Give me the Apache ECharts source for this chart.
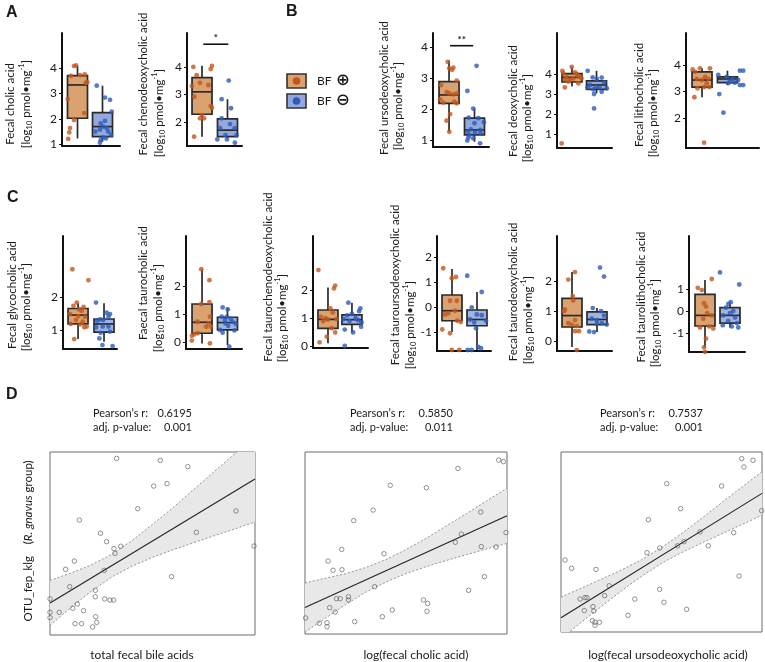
<!DOCTYPE html>
<html><head><meta charset="utf-8">
<script src="https://cdn.jsdelivr.net/npm/echarts@6/dist/echarts.min.js"></script>
<style>html,body{margin:0;padding:0;background:#fff}#c{width:765px;height:662px}</style>
</head><body><div id="c"></div>
<script>
// ---------- Panel A / B / C data (log10 pmol/mg) ----------
const groups = ['BF+', 'BF-'];
// box stats: [lowWhisker, Q1, median, Q3, highWhisker] for BF+ and BF-
const cholicTicks = [1,2,3,4];
const cholicBox = [[1.22,2.02,3.34,3.71,4.1],[1.09,1.29,1.69,2.24,3.31]];
const cholicPlus = [4.12,4.09,3.7,3.73,3.76,3.42,3.45,2.78,2.22,1.95,1.63,1.46,1.2];
const cholicPlusJitter = [-0.06,-0.14,-0.26,0.1,0.29,0.33,0.39,-0.39,0.27,-0.14,-0.3,-0.33,-0.37];
const cholicMinus = [3.31,2.84,2.75,2.28,1.92,1.82,1.69,1.62,1.57,1.49,1.49,1.36,1.26,1.16,1.22,1.05];
const cholicMinusJitter = [-0.23,0.1,0.3,0.37,0.1,-0.07,0.03,0.17,-0.1,-0.29,0.23,0.34,0.03,-0.07,0.14,-0.1];

const chenoTicks = [2,3,4];
const chenoBox = [[1.46,2.28,3.1,3.62,4.05],[1.42,1.46,1.7,2.11,2.83]];
const chenoPlus = [4.01,3.71,3.43,3.31,2.92,3.35,4.05,3.93,2.25,2.13,2.13,2.58,2.52,1.46];
const chenoPlusJitter = [-0.34,-0.21,-0.08,-0.4,-0.3,0.25,0.39,0.34,0,-0.08,0.08,0.34,0.39,-0.31];
const chenoMinus = [3.51,2.83,2.5,2.13,1.92,1.77,1.77,1.52,1.52,1.36,1.36,1.24];
const chenoMinusJitter = [0.05,-0.23,0.14,-0.23,0.1,-0.29,0.28,-0.08,0.36,-0.4,-0.02,0.29];
const chenoSig = [1.05, 2.03, 4.84, '*'];

const ursoTicks = [1,2,3,4];
const ursoBox = [[1.26,2.18,2.45,2.88,3.56],[0.94,1.16,1.32,1.7,2.02]];
const ursoPlus = [3.52,3.26,3.31,3.33,2.91,2.77,2.54,2.5,2.47,2.5,2.31,2.2,2.18,2.23,1.83,1.62,1.26];
const ursoPlusJitter = [-0.05,0.12,0.01,0.17,0.3,-0.31,-0.09,0.01,0.17,0.3,-0.35,-0.22,0.3,0.2,0.04,-0.1,0.01];
const ursoMinus = [3.39,2.58,2.01,1.72,1.7,1.54,1.57,1.34,1.32,1.26,1.23,1.21,1.16,1.08,1.05,0.98,0.89];
const ursoMinusJitter = [0.08,-0.28,-0.05,-0.23,0.15,0,0.37,-0.14,0.22,-0.27,0.02,0.24,-0.2,-0.24,-0.05,-0.28,0.22];
const ursoSig = [1.04, 1.95, 4.04, '**'];

const deoxyTicks = [1,2,3,4];
const deoxyBox = [[3.38,3.6,3.83,4.02,4.35],[3.03,3.23,3.45,3.66,4.16]];
const deoxyPlus = [4.15,4.03,3.73,3.33,4.36,4.08,4.0,3.9,3.86,3.78,3.78,3.7,3.53,3.86,3.62,0.53];
const deoxyPlusJitter = [-0.39,-0.35,-0.29,-0.29,-0.01,0.12,0.19,0.26,0.33,0.39,0.05,-0.08,0.26,-0.22,-0.15,-0.42];
const deoxyMinus = [4.16,3.83,3.75,3.82,3.58,3.28,3.45,3.33,3.33,3.36,3.23,3.11,3.0,2.28];
const deoxyMinusJitter = [-0.36,-0.16,0.01,0.21,0.31,0.42,-0.27,-0.37,0.12,-0.02,-0.13,0.21,-0.1,-0.1];

const lithoTicks = [2,3,4];
const lithoBox = [[2.78,3.16,3.43,3.74,3.87],[3.24,3.33,3.47,3.55,3.78]];
const lithoPlus = [3.83,3.74,3.87,3.16,3.47,3.12,2.78,3.87,3.16,3.55,3.47,3.31,3.43,1.07];
const lithoPlusJitter = [-0.37,-0.27,-0.08,0.09,0.25,-0.18,-0.3,0.31,0.29,0.12,-0.21,0.18,-0.01,0.08];
const lithoMinus = [3.62,3.55,3.47,3.78,3.78,3.43,3.37,3.33,3.24,3.31,3.24,2.9,2.2];
const lithoMinusJitter = [-0.36,-0.03,0.2,0.49,0.62,0.42,0.1,0.29,0.49,0.03,0.62,-0.32,-0.16];

const glycoTicks = [1,2];
const glycoBox = [[0.72,1.18,1.45,1.65,1.81],[0.64,0.93,1.18,1.33,1.81]];
const glycoPlus = [2.84,2.51,1.83,1.73,1.7,1.62,1.58,1.48,1.42,1.4,1.3,1.25,1.17,1.1,1.08,0.72,1.18];
const glycoPlusJitter = [-0.22,0.4,-0.05,-0.18,0.21,0.04,0.14,-0.31,0.01,0.27,-0.08,0.18,0.08,0.33,0.24,-0.15,-0.28];
const glycoMinus = [1.83,1.32,1.28,1.52,1.48,1.4,1.3,1.08,1.1,1.1,0.95,0.91,0.54,0.51,0.74];
const glycoMinusJitter = [-0.31,-0.15,-0.26,0.1,0.23,0.17,-0.03,-0.31,-0.05,0.17,0.23,-0.13,-0.06,0.33,-0.18];

const tauroTicks = [0,1,2];
const tauroBox = [[-0.05,0.31,0.7,1.35,2.59],[-0.11,0.43,0.69,0.88,1.23]];
const tauroPlus = [2.59,2.2,1.35,1.42,0.9,0.66,0.54,0.72,0.54,0.27,0.22,0.31,0.05,-0.05,-0.26];
const tauroPlusJitter = [-0.03,0.29,-0.03,0.29,0.31,0.25,0.16,-0.18,0.35,-0.31,-0.4,-0.17,-0.4,0.31,-0.24];
const tauroMinus = [1.23,1.16,0.9,0.9,0.83,0.78,0.72,0.64,0.57,0.43,0.33,0.41,-0.17,0.66];
const tauroMinusJitter = [-0.19,0.01,-0.23,-0.03,0.12,-0.1,0.2,0.33,0.03,-0.29,-0.19,0.27,0.07,-0.08];

const tauroChenoTicks = [0,1,2];
const tauroChenoBox = [[0.12,0.64,0.96,1.29,2.08],[0.5,0.78,0.95,1.12,1.55]];
const tauroChenoPlus = [2.7,2.15,2.05,1.35,1.2,1.05,1.0,0.97,0.95,0.9,0.65,0.5,0.35,0.15];
const tauroChenoPlusJitter = [-0.4,0.3,0.25,0.1,0.2,-0.3,-0.1,0.35,0.0,-0.2,0.15,0.3,-0.05,-0.35];
const tauroChenoMinus = [1.55,1.35,1.25,1.15,1.1,1.0,0.97,0.93,0.9,0.85,0.7,0.6,0.5,0.02];
const tauroChenoMinusJitter = [-0.15,0.35,0.3,0.0,-0.2,0.15,-0.35,0.25,-0.1,0.4,0.38,-0.3,0.05,-0.3];

const tauroUrsoTicks = [-1,0,1,2];
const tauroUrsoBox = [[-1.0,-0.55,-0.15,0.48,1.52],[-1.72,-0.75,-0.5,-0.12,0.6]];
const tauroUrsoPlus = [1.55,1.2,1.15,0.25,0.25,-0.15,-0.3,-0.25,-0.55,-0.6,-0.9,-1.05,-1.72,-1.72];
const tauroUrsoPlusJitter = [-0.35,0.16,-0.01,-0.08,0.19,0.12,-0.28,-0.15,0.21,0.35,-0.39,-0.08,-0.01,0.29];
const tauroUrsoMinus = [1.25,0.6,-0.02,-0.3,-0.33,-0.5,-0.55,-0.62,-0.85,-1.6,-1.65,-1.72,-1.72];
const tauroUrsoMinusJitter = [-0.39,0.19,-0.21,-0.01,0.19,-0.28,0.36,-0.11,-0.04,0.05,0.16,-0.37,-0.21];

const tauroDeoxyTicks = [0,1,2];
const tauroDeoxyBox = [[-0.2,0.47,0.85,1.42,2.3],[0.3,0.55,0.72,0.97,1.1]];
const tauroDeoxyPlus = [2.3,2.05,1.5,1.35,1.05,1.0,0.7,0.6,0.55,0.5,0.33,0.33,-0.18,-0.3];
const tauroDeoxyPlusJitter = [0.12,-0.15,0.03,0.05,-0.28,-0.32,0.12,-0.15,-0.01,0.19,0.12,0.28,-0.62,0.19];
const tauroDeoxyMinus = [2.45,2.15,1.1,1.0,0.85,0.75,0.7,0.6,0.58,0.55,0.32,0.3];
const tauroDeoxyMinusJitter = [0.12,0.28,-0.17,0.16,0.28,-0.21,-0.01,0.19,-0.01,0.39,-0.31,-0.12];

const tauroLithoTicks = [-1,0,1];
const tauroLithoBox = [[-1.65,-0.68,-0.2,0.75,1.4],[-0.75,-0.55,-0.2,0.15,0.4]];
const tauroLithoPlus = [1.45,1.05,0.95,0.35,0.2,-0.1,-0.2,-0.35,-0.7,-0.75,-0.8,-1.25,-1.65,-1.85];
const tauroLithoPlusJitter = [0.27,-0.29,-0.13,-0.04,0.04,0.09,0.27,-0.07,0.17,-0.2,0.33,0.04,-0.04,0];
const tauroLithoMinus = [1.75,1.2,0.4,0.32,0.15,0.0,-0.1,-0.2,-0.3,-0.45,-0.55,-0.65,-0.7,-0.75];
const tauroLithoMinusJitter = [-0.4,0.37,0.03,-0.07,-0.16,0.13,0,-0.27,0.2,-0.07,0.27,-0.29,0.07,0.33];

// ---------- Panel D data (relative units, axes unlabeled) ----------
const bandX = [0,10,20,30,40,50,60,70,80,90,100];

const totalBileX = [32.5,53.8,67.2,50.6,57.1,42.8,14.3,90.7,24.6,27.6,71.4,34.5,31.2,31.7,11.9,7.6,26.5,59.3,9.6,0,22.1,22.1,26.7,29.3,31.0,13.3,11.1,4.5,0,0,16.4,12.2,15.4,22.3,22.8,20.8,99.5];
const totalBileY = [96.5,95.4,92.0,81.4,82.7,69.0,62.8,67.8,55.6,51.0,56.1,48.5,47.2,44.6,40.4,35.9,35.3,31.9,26.4,19.7,24.4,20.9,19.7,19.1,19.1,16.9,14.6,12.4,12.4,9.5,13.3,6.2,6.2,10.0,6.9,4.4,48.6];
const totalBileFit = [17.5, 85.2];
const totalBileUpper = [29.8,33.8,38.2,44.0,51.6,60.4,69.6,79.4,89.2,98.9,108.7];
const totalBileLower = [5.2,14.8,23.8,31.6,37.6,42.4,46.6,50.4,54.2,57.9,61.7];

const cholicLogX = [95.9,98.2,75.7,42.2,60.1,33.7,24.1,87.0,77.4,74.4,99.5,18.2,39.1,87.3,94.6,11.4,13.9,18.3,88.8,34.5,81.0,17.4,15.6,21.5,21.5,58.6,60.7,12.2,15.0,43.2,60.4,0.3,38.3,7.1,10.9,10.9,24.6];
const cholicLogY = [95.6,94.7,91.0,81.7,80.4,68.1,62.3,67.0,54.9,50.4,55.7,46.5,44.1,48.0,47.8,40.1,35.0,35.3,31.5,26.0,24.0,19.4,19.4,20.5,18.7,18.7,16.8,14.5,12.1,13.2,12.5,8.8,9.5,5.9,6.2,4.0,6.8];
const cholicLogFit = [14.5, 65.0];
const cholicLogUpper = [28.0,30.6,33.1,36.5,40.9,46.4,52.6,59.4,66.2,73.2,80.2];
const cholicLogLower = [1.0,8.6,16.1,22.9,28.5,33.2,37.0,40.4,43.6,46.8,49.8];

const ursoLogX = [89.9,95.5,91.0,52.6,79.9,59.5,43.5,99.8,69.2,85.9,61.2,58.0,73.3,49.1,42.8,2.0,5.3,17.4,88.6,24.0,49.1,9.5,11.9,12.9,21.7,36.7,51.2,15.9,11.6,16.3,62.5,33.3,15.6,16.9,19.1,16.9];
const ursoLogY = [96.3,95.4,91.7,82.4,81.1,68.5,62.4,67.4,55.6,55.2,50.2,47.9,47.9,46.7,44.1,40.0,35.4,34.8,31.1,25.7,23.7,18.3,19.1,19.1,20.2,18.3,16.5,14.1,11.9,11.7,12.6,9.3,6.3,5.4,5.4,3.7];
const ursoLogFit = [7.9, 77.0];
const ursoLogUpper = [19.4,24.3,29.3,34.4,40.1,46.9,54.7,63.2,71.9,80.5,89.1];
const ursoLogLower = [-3.6,5.3,14.1,22.8,30.9,38.1,44.1,49.4,54.5,59.7,64.9];

// ---------- styling / layout ----------
const FONT = 'Lato, "Open Sans", sans-serif';
const TAN = '#d9a26e', LAV = '#93a8df', SKY = '#9db5e4';
const ORANGE = '#c4561c', BLUE = '#2d5bb6';
const INK = '#1a1a1a';

const boxPanels = [
  {box: cholicBox, plus: cholicPlus, pj: cholicPlusJitter, minus: cholicMinus, mj: cholicMinusJitter, ticks: cholicTicks,
   grid: [62,33,58,113], x: [0.38,2.7], y: [0.92,5.4]},
  {box: chenoBox, plus: chenoPlus, pj: chenoPlusJitter, minus: chenoMinus, mj: chenoMinusJitter, ticks: chenoTicks, sig: chenoSig,
   grid: [187,33,55,113], x: [0.41,2.57], y: [1.12,5.25]},
  {box: ursoBox, plus: ursoPlus, pj: ursoPlusJitter, minus: ursoMinus, mj: ursoMinusJitter, ticks: ursoTicks, sig: ursoSig,
   grid: [433,33,56,114], x: [0.37,2.57], y: [0.77,4.45]},
  {box: deoxyBox, plus: deoxyPlus, pj: deoxyPlusJitter, minus: deoxyMinus, mj: deoxyMinusJitter, ticks: deoxyTicks,
   grid: [557,33,55,115], x: [0.39,2.63], y: [0.3,6.05]},
  {box: lithoBox, plus: lithoPlus, pj: lithoPlusJitter, minus: lithoMinus, mj: lithoMinusJitter, ticks: lithoTicks,
   grid: [686,33,73,115], x: [0.37,3.24], y: [0.87,5.2]},
  {box: glycoBox, plus: glycoPlus, pj: glycoPlusJitter, minus: glycoMinus, mj: glycoMinusJitter, ticks: glycoTicks, light: true,
   grid: [63,236,54,113], x: [0.42,2.5], y: [0.42,3.85]},
  {box: tauroBox, plus: tauroPlus, pj: tauroPlusJitter, minus: tauroMinus, mj: tauroMinusJitter, ticks: tauroTicks, light: true,
   grid: [186,236,56,113], x: [0.37,2.57], y: [-0.25,3.77]},
  {box: tauroChenoBox, plus: tauroChenoPlus, pj: tauroChenoPlusJitter, minus: tauroChenoMinus, mj: tauroChenoMinusJitter, ticks: tauroChenoTicks, light: true,
   grid: [313,236,55,112], x: [0.375,2.67], y: [-0.05,3.9]},
  {box: tauroUrsoBox, plus: tauroUrsoPlus, pj: tauroUrsoPlusJitter, minus: tauroUrsoMinus, mj: tauroUrsoMinusJitter, ticks: tauroUrsoTicks, light: true,
   grid: [437,236,54,115], x: [0.4,2.56], y: [-1.76,2.84]},
  {box: tauroDeoxyBox, plus: tauroDeoxyPlus, pj: tauroDeoxyPlusJitter, minus: tauroDeoxyMinus, mj: tauroDeoxyMinusJitter, ticks: tauroDeoxyTicks, light: true,
   grid: [557,236,55,115], x: [0.4,2.6], y: [-0.33,3.5]},
  {box: tauroLithoBox, plus: tauroLithoPlus, pj: tauroLithoPlusJitter, minus: tauroLithoMinus, mj: tauroLithoMinusJitter, ticks: tauroLithoTicks, light: true,
   grid: [689,236,56,116], x: [0.36,2.6], y: [-1.86,3.4]}
];

const scatterPanels = [
  {x: totalBileX, y: totalBileY, fit: totalBileFit, up: totalBileUpper, lo: totalBileLower, grid: [50,452,205,183]},
  {x: cholicLogX, y: cholicLogY, fit: cholicLogFit, up: cholicLogUpper, lo: cholicLogLower, grid: [305,452,202,182]},
  {x: ursoLogX, y: ursoLogY, fit: ursoLogFit, up: ursoLogUpper, lo: ursoLogLower, grid: [561,452,201,180]}
];

const BOX_W = 20;
function makeBoxRender(minusFill) {
  return function (params, api) {
    const x = api.value(0);
    const lo = api.coord([x, api.value(1)]), q1 = api.coord([x, api.value(2)]),
          md = api.coord([x, api.value(3)]), q3 = api.coord([x, api.value(4)]),
          hi = api.coord([x, api.value(5)]);
    const cx = md[0];
    const fill = api.value(6) === 0 ? TAN : minusFill;
    const st = {stroke: '#2a2a2a', lineWidth: 1.7};
    return {type: 'group', children: [
      {type: 'line', shape: {x1: cx, y1: hi[1], x2: cx, y2: lo[1]}, style: st},
      {type: 'rect', shape: {x: cx - BOX_W/2, y: q3[1], width: BOX_W, height: q1[1] - q3[1]}, style: {fill: fill, stroke: '#2a2a2a', lineWidth: 1.7}},
      {type: 'line', shape: {x1: cx - BOX_W/2, y1: md[1], x2: cx + BOX_W/2, y2: md[1]}, style: st}
    ]};
  };
}

const grids = [], xAxes = [], yAxes = [], series = [];
boxPanels.forEach((p, i) => {
  grids.push({left: p.grid[0], top: p.grid[1], width: p.grid[2], height: p.grid[3], containLabel: false});
  xAxes.push({type: 'value', gridIndex: i, min: p.x[0], max: p.x[1],
    axisLine: {show: true, onZero: false, lineStyle: {color: '#111', width: 2}},
    axisTick: {show: false}, axisLabel: {show: false}, splitLine: {show: false}});
  yAxes.push({type: 'value', gridIndex: i, min: p.y[0], max: p.y[1],
    axisLine: {show: true, onZero: false, lineStyle: {color: '#111', width: 2}},
    axisTick: {show: true, length: 3, customValues: p.ticks, lineStyle: {color: '#111', width: 1}},
    axisLabel: {customValues: p.ticks, fontSize: 12, fontFamily: FONT, color: INK, margin: 5},
    splitLine: {show: false}});
  series.push({type: 'custom', xAxisIndex: i, yAxisIndex: i, renderItem: makeBoxRender(p.light ? SKY : LAV), z: 2,
    data: p.box.map((b, k) => [k + 1].concat(b).concat([k]))});
  series.push({type: 'scatter', xAxisIndex: i, yAxisIndex: i, symbolSize: 4.8, z: 3,
    itemStyle: {color: ORANGE}, data: p.plus.map((v, j) => [1 + p.pj[j], v])});
  series.push({type: 'scatter', xAxisIndex: i, yAxisIndex: i, symbolSize: 4.8, z: 3,
    itemStyle: {color: BLUE}, data: p.minus.map((v, j) => [2 + p.mj[j], v])});
  if (p.sig) {
    const lab = p.sig[3];
    series.push({type: 'custom', xAxisIndex: i, yAxisIndex: i, z: 3, data: [p.sig.slice(0, 3)],
      renderItem: function (params, api) {
        const a = api.coord([api.value(0), api.value(2)]);
        const b = api.coord([api.value(1), api.value(2)]);
        return {type: 'group', children: [
          {type: 'line', shape: {x1: a[0], y1: a[1], x2: b[0], y2: b[1]}, style: {stroke: '#111', lineWidth: 1.6}},
          {type: 'text', x: (a[0] + b[0]) / 2, y: a[1] - 1,
           style: {text: lab, fontSize: 10, fontWeight: 'bold', fontFamily: FONT, fill: INK, align: 'center', verticalAlign: 'bottom'}}
        ]};
      }});
  }
});

scatterPanels.forEach((p, s) => {
  const i = boxPanels.length + s;
  grids.push({left: p.grid[0], top: p.grid[1], width: p.grid[2], height: p.grid[3], show: true,
    borderColor: '#6a6a6a', borderWidth: 1, backgroundColor: 'transparent'});
  xAxes.push({type: 'value', gridIndex: i, min: 0, max: 100, show: false});
  yAxes.push({type: 'value', gridIndex: i, min: 0, max: 100, show: false});
  const band = bandX.map((x, k) => [x, p.lo[k], p.up[k]]);
  series.push({type: 'custom', xAxisIndex: i, yAxisIndex: i, clip: true, z: 1, data: band,
    renderItem: function (params, api) {
      if (params.dataIndex !== 0) return null;
      const pts = [];
      band.forEach(d => pts.push(api.coord([d[0], d[2]])));
      for (let k = band.length - 1; k >= 0; k--) pts.push(api.coord([band[k][0], band[k][1]]));
      return {type: 'polygon', shape: {points: pts}, style: {fill: '#e8e8e8', stroke: null}};
    }});
  [p.up, p.lo].forEach(arr => {
    series.push({type: 'line', xAxisIndex: i, yAxisIndex: i, symbol: 'none', clip: true, z: 2,
      lineStyle: {color: '#7a7a7a', width: 0.8, type: [2, 2]},
      data: bandX.map((x, k) => [x, arr[k]])});
  });
  series.push({type: 'line', xAxisIndex: i, yAxisIndex: i, symbol: 'none', z: 3,
    lineStyle: {color: '#222', width: 1.1}, data: [[0, p.fit[0]], [100, p.fit[1]]]});
  series.push({type: 'scatter', xAxisIndex: i, yAxisIndex: i, symbol: 'circle', symbolSize: 4.5, z: 4,
    itemStyle: {color: 'rgba(255,255,255,0)', borderColor: '#555', borderWidth: 0.8},
    data: p.x.map((x, k) => [x, p.y[k]])});
});

// ---------- text ----------
const UNITS = '[log{s|10} pmol\u2022mg{p|-1}]';
const unitRich = {s: {fontSize: 7.5, lineHeight: 8, verticalAlign: 'bottom', fontFamily: FONT, fill: INK},
                  p: {fontSize: 7.5, lineHeight: 8, verticalAlign: 'top', fontFamily: FONT, fill: INK}};
function vtext(x, y, text, rich) {
  return {type: 'text', x: x, y: y, rotation: Math.PI / 2, z: 10,
    style: {text: text, fontSize: 11.5, lineHeight: rich ? 16 : undefined, fontFamily: FONT, fill: INK, align: 'center', verticalAlign: 'middle',
      textAlign: 'center', textVerticalAlign: 'middle', rich: rich}};
}
function htext(x, y, text, size, align, extra) {
  return {type: 'text', x: x, y: y, z: 10,
    style: Object.assign({text: text, fontSize: size, fontFamily: FONT, fill: INK, align: align, verticalAlign: 'middle',
      textAlign: align, textVerticalAlign: 'middle'}, extra || {})};
}
const yTitles = [
  ['Fecal cholic acid', 10, 104, 26, 104],
  ['Fecal chenodeoxycholic acid', 143, 84, 159, 113],
  ['Fecal ursodeoxycholic acid', 384, 88, 398, 106],
  ['Fecal deoxycholic acid', 513, 101, 527, 118],
  ['Fecal lithocholic acid', 639, 95, 653, 113],
  ['Fecal glycocholic acid', 12, 295, 26, 307],
  ['Faecal taurocholic acid', 143, 283, 158, 308],
  ['Fecal taurochenodeoxycholic acid', 268, 277, 282, 318],
  ['Fecal tauroursodeoxycholic acid', 395, 285, 410, 325],
  ['Fecal taurodeoxycholic acid', 513, 292, 528, 320],
  ['Fecal taurolithocholic acid', 641, 297, 655, 323]
];
const graphics = [];
yTitles.forEach(t => {
  graphics.push(vtext(t[1], t[2], t[0]));
  graphics.push(vtext(t[3], t[4], UNITS, unitRich));
});
const bold = {fontWeight: 'bold', fontFamily: '"Liberation Sans", Arial, sans-serif'};
graphics.push(htext(6, 13, 'A', 16, 'left', bold));
graphics.push(htext(286, 12, 'B', 16, 'left', bold));
graphics.push(htext(7, 198, 'C', 16, 'left', bold));
graphics.push(htext(6, 395, 'D', 16, 'left', bold));

// legend
graphics.push({type: 'rect', shape: {x: 287, y: 74, width: 19, height: 14}, style: {fill: TAN, stroke: '#333', lineWidth: 1.6}});
graphics.push({type: 'circle', shape: {cx: 296.5, cy: 81, r: 3.8}, style: {fill: ORANGE}});
graphics.push({type: 'rect', shape: {x: 287, y: 94, width: 19, height: 14}, style: {fill: LAV, stroke: '#333', lineWidth: 1.6}});
graphics.push({type: 'circle', shape: {cx: 296.5, cy: 101, r: 3.8}, style: {fill: BLUE}});
graphics.push(htext(317, 81, 'BF', 12, 'left'));
graphics.push(htext(317, 101, 'BF', 12, 'left'));
graphics.push(htext(336, 81, '\u2295', 16.5, 'left', {fontWeight: 'bold', fontFamily: '"DejaVu Sans", sans-serif'}));
graphics.push(htext(336, 101, '\u2296', 16.5, 'left', {fontWeight: 'bold', fontFamily: '"DejaVu Sans", sans-serif'}));

// panel D stats
const stats = [['0.6195', '0.001', 93, 192], ['0.5850', '0.011', 350, 453], ['0.7537', '0.001', 600, 703]];
stats.forEach(s => {
  graphics.push(htext(s[2], 413, 'Pearson\u2019s r:', 11, 'left'));
  graphics.push(htext(s[3], 413, s[0], 11, 'right'));
  graphics.push(htext(s[2], 427, 'adj. p-value:', 11, 'left'));
  graphics.push(htext(s[3], 427, s[1], 11, 'right'));
});
graphics.push(htext(142, 655, 'total fecal bile acids', 12, 'center'));
graphics.push(htext(416, 655, 'log(fecal cholic acid)', 12, 'center'));
graphics.push(htext(668, 655, 'log(fecal ursodeoxycholic acid)', 12, 'center'));
graphics.push(vtext(28, 541, 'OTU_fep_klg    ({i|R. gnavus} group)',
  {i: {fontStyle: 'italic', fontSize: 11.5, fontFamily: FONT, fill: INK}}));

const chart = echarts.init(document.getElementById('c'), null, {renderer: 'canvas'});
chart.setOption({
  animation: false,
  backgroundColor: '#fff',
  grid: grids, xAxis: xAxes, yAxis: yAxes, series: series,
  graphic: {elements: graphics}
});
</script></body></html>
